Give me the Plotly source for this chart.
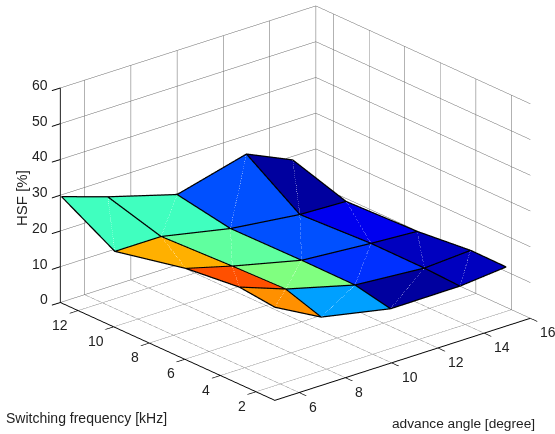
import numpy as np
import plotly.graph_objects as go

advance_angle = [5, 7, 10, 13, 15]
switching_freq = [13, 10, 6, 3, 1]
hsf = [
    [29.5, 25.3, 19.7, 24.8, 19.0],
    [21.0, 21.0, 17.0, 14.7, 14.2],
    [25.3, 21.8, 17.2, 15.7, 14.9],
    [26.9, 22.2, 17.1, 15.6, 16.4],
    [25.8, 18.9, 15.0, 15.1, 16.3],
]
face_colors = [
    ["#40FFBF", "#40FFBF", "#0050FF", "#00009F"],
    ["#FFB000", "#60FF9F", "#0050FF", "#0000EF"],
    ["#FF5000", "#80FF80", "#0030FF", "#0000BF"],
    ["#FF9000", "#00A0FF", "#00009F", "#0000BF"],
]
x_ticks = [6, 8, 10, 12, 14, 16]
y_ticks = [2, 4, 6, 8, 10, 12]
z_ticks = [0, 10, 20, 30, 40, 50, 60]
x_range = [4.95, 16]
y_range = [0.94, 13]
z_range = [0, 60]

nr, nc = len(switching_freq), len(advance_angle)
X, Y, Z = [], [], []
for r in range(nr):
    for c in range(nc):
        X.append(advance_angle[c]); Y.append(switching_freq[r]); Z.append(hsf[r][c])
I, J, K, FC = [], [], [], []
for r in range(nr - 1):
    for c in range(nc - 1):
        a = r * nc + c; b = a + 1; d = a + nc; e = d + 1
        I += [a, b]; J += [b, e]; K += [d, d]
        FC += [face_colors[r][c]] * 2

# Edges are nudged along the line of sight only, so they stay at the same place
# on screen but are never hidden by the surface they lie on.
NX, NY, NZ = -0.042, -0.055, 0.21

fig = go.Figure()
fig.add_trace(go.Mesh3d(x=X, y=Y, z=Z, i=I, j=J, k=K, facecolor=FC, flatshading=True,
                        lighting=dict(ambient=1, diffuse=0, specular=0, fresnel=0, roughness=1),
                        hoverinfo="skip", showscale=False))
ex, ey, ez = [], [], []
for r in range(nr):
    for c in range(nc):
        ex.append(advance_angle[c] + NX); ey.append(switching_freq[r] + NY); ez.append(hsf[r][c] + NZ)
    ex.append(None); ey.append(None); ez.append(None)
for c in range(nc):
    for r in range(nr):
        ex.append(advance_angle[c] + NX); ey.append(switching_freq[r] + NY); ez.append(hsf[r][c] + NZ)
    ex.append(None); ey.append(None); ez.append(None)
fig.add_trace(go.Scatter3d(x=ex, y=ey, z=ez, mode="lines", line=dict(color="black", width=2.5),
                           hoverinfo="skip", showlegend=False))
dx, dy, dz = [], [], []
for r in range(nr - 1):
    for c in range(nc - 1):
        dx += [advance_angle[c + 1] + NX / 2, advance_angle[c] + NX / 2, None]
        dy += [switching_freq[r] + NY / 2, switching_freq[r + 1] + NY / 2, None]
        dz += [hsf[r][c + 1] + NZ / 2, hsf[r + 1][c] + NZ / 2, None]
fig.add_trace(go.Scatter3d(x=dx, y=dy, z=dz, mode="lines", line=dict(color="rgba(255,255,255,0.16)", width=1),
                           hoverinfo="skip", showlegend=False))

axis = dict(showbackground=False, showgrid=True, gridcolor="#666666", gridwidth=1,
            showline=True, linecolor="black", linewidth=2, zeroline=False,
            ticks="outside", ticklen=11, tickwidth=2, tickcolor="black", showticklabels=False,
            title=dict(text=""), showspikes=False, tickmode="array")

tick_font = dict(family="Liberation Sans", size=14, color="#222222")

def tick(x, y, z, text, anchor, xs, ys):
    return dict(x=x, y=y, z=z, text=text, showarrow=False, xanchor=anchor, yanchor="middle",
                xshift=xs, yshift=ys, font=tick_font)

scene_ann = []
scene_ann += [tick(x_range[0], y_range[1], t, str(t), "right", -10, 3) for t in z_ticks]
scene_ann += [tick(x_range[0], t, z_range[0], str(t), "right", -8, -14) for t in y_ticks]
scene_ann += [tick(t, y_range[0], z_range[0], str(t), "left", 8, -14) for t in x_ticks]

def ann(t, x, y, anchor="left", size=14, **kw):
    return dict(text=t, x=x / 555, y=1 - y / 434, xref="paper", yref="paper", showarrow=False,
                xanchor=anchor, yanchor="middle",
                font=dict(family="Liberation Sans", size=size, color="#222222"), **kw)

D = 3.0
C = (-0.0787, 0.0341, -0.0591)
fig.update_layout(
    width=555, height=434, margin=dict(l=0, r=0, t=0, b=0), paper_bgcolor="white",
    showlegend=False,
    scene=dict(
        domain=dict(x=[0, 1], y=[0, 1]),
        xaxis=dict(axis, range=x_range, tickvals=x_ticks),
        yaxis=dict(axis, range=y_range, tickvals=y_ticks),
        zaxis=dict(axis, range=z_range, tickvals=z_ticks),
        aspectmode="manual", aspectratio=dict(x=1.537, y=1.538, z=1.07),
        camera=dict(projection=dict(type="orthographic"), up=dict(x=0, y=0, z=1),
                    center=dict(x=C[0], y=C[1], z=C[2]),
                    eye=dict(x=C[0] - 0.594 * D, y=C[1] - 0.708 * D, z=C[2] + 0.383 * D)),
        annotations=scene_ann,
    ),
    annotations=[
        ann("HSF [%]", 21, 198, anchor="center", size=15, textangle=-90),
        ann("Switching frequency [kHz]", 4, 418),
        ann("advance angle [degree]", 390, 423, size=13.7),
    ],
)
fig.write_html("out.html", config=dict(displayModeBar=False),
               post_script="document.body.style.margin='0';document.body.style.overflow='hidden';")
